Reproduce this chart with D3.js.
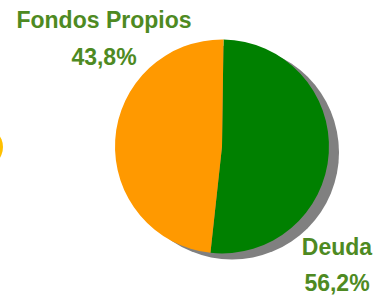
<!DOCTYPE html>
<html>
<head>
<meta charset="utf-8">
<script src="https://cdn.jsdelivr.net/npm/d3@7"></script>
<style>
  html, body { margin: 0; padding: 0; background: #fff; }
  svg { display: block; }
</style>
</head>
<body>
<svg id="chart"></svg>
<script>
// data
const categories = ["Deuda", "Fondos Propios"];
const percentLabels = ["56,2%", "43,8%"];
// share of the circle each slice actually covers in the drawing
const sliceShares = [51.5, 48.5];
const sliceColors = ["#008000", "#ff9900"];

const width = 377, height = 296;
const svg = d3.select("#chart").attr("width", width).attr("height", height);

const cx = 222, cy = 146.5, r = 107;
const textColor = "#4e8a22";

// cut-off yellow shape at the left edge
svg.append("circle")
    .attr("cx", -17).attr("cy", 147).attr("r", 20)
    .attr("fill", "#ffc000");

// shadow
svg.append("circle")
    .attr("cx", cx + 10).attr("cy", cy + 6).attr("r", r)
    .attr("fill", "#808080");

const pie = d3.pie().sort(null)
    .startAngle(0.014)
    .endAngle(0.014 + 2 * Math.PI);
const arc = d3.arc().innerRadius(0).outerRadius(r);

svg.append("g")
    .attr("transform", `translate(${cx},${cy})`)
    .selectAll("path")
    .data(pie(sliceShares))
    .join("path")
    .attr("d", arc)
    .attr("fill", (d, i) => sliceColors[i]);

// labels
const labelPos = [
    { x: 337, y1: 255, y2: 291 },
    { x: 104, y1: 28, y2: 65 }
];
const labels = svg.append("g")
    .attr("font-family", "'Liberation Sans', Arial, sans-serif")
    .attr("font-weight", "bold")
    .attr("font-size", "23px")
    .attr("fill", textColor)
    .attr("text-anchor", "middle");

categories.forEach((c, i) => {
    labels.append("text").attr("x", labelPos[i].x).attr("y", labelPos[i].y1).text(c);
    labels.append("text").attr("x", labelPos[i].x).attr("y", labelPos[i].y2).text(percentLabels[i]);
});
</script>
</body>
</html>
